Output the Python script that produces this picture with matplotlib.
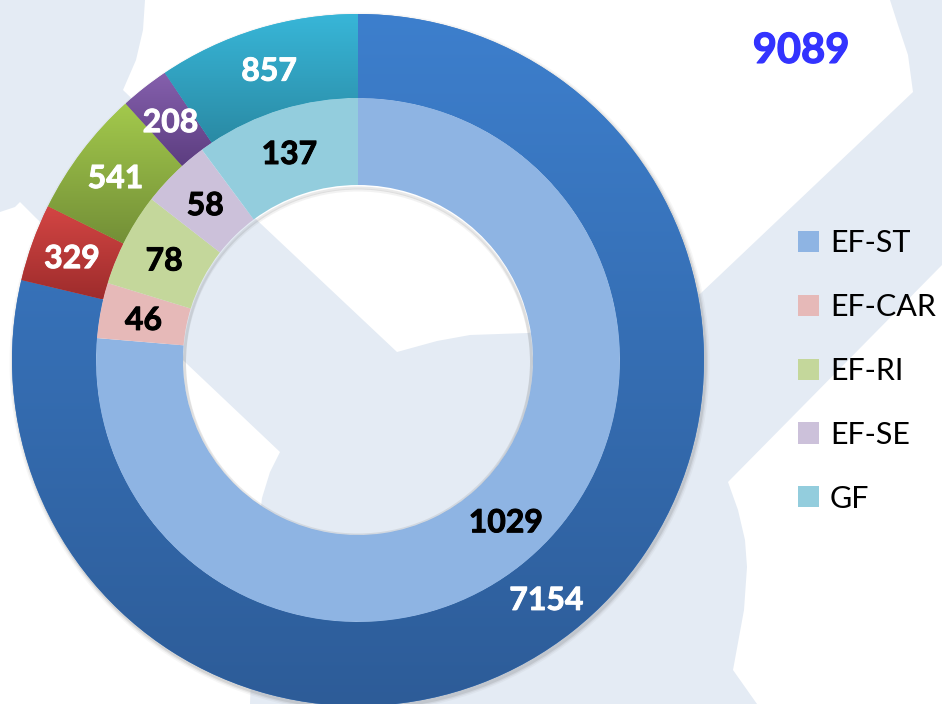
import numpy as np
import matplotlib
matplotlib.use('Agg')
import matplotlib.pyplot as plt
from matplotlib.patches import Polygon, Circle, Wedge
from matplotlib.colors import LinearSegmentedColormap
import matplotlib.patheffects as pe

# ---- data ----
categories = ['EF-ST', 'EF-CAR', 'EF-RI', 'EF-SE', 'GF']
outer_values = [7154, 329, 541, 208, 857]
inner_values = [1029, 46, 78, 58, 137]

# ---- style ----
outer_top = ['#3d7fcd', '#d44644', '#a3c94c', '#8560ad', '#38b6d8']
outer_bottom = ['#2d5c98', '#9e2c2c', '#738f37', '#5c3d80', '#2a8aa4']
inner_colors = ['#8eb4e3', '#e6b9b8', '#c4d79b', '#ccc1da', '#93cddd']
FONT = ['Lato', 'DejaVu Sans']

W, H = 942, 704
fig = plt.figure(figsize=(W / 100, H / 100), dpi=100)
fig.patch.set_facecolor('#e4ebf4')

# decorative background (watermark shapes)
bg = fig.add_axes([0, 0, 1, 1])
bg.set_xlim(0, W)
bg.set_ylim(H, 0)
bg.axis('off')
white_regions = [
    [(145, 0), (143, 30), (136, 60), (123, 90), (260, 223), (397, 352), (437, 341),
     (470, 335), (528, 333), (600, 320), (700, 294), (913, 92), (908, 55), (898, 25), (890, 0)],
    [(0, 212), (15, 207), (20, 202), (35, 217), (186, 363), (280, 452), (270, 472),
     (262, 498), (255, 560), (250, 704), (0, 704)],
    [(942, 265), (728, 482), (738, 510), (745, 540), (747, 567), (744, 610), (733, 670),
     (757, 704), (942, 704)],
]
for poly in white_regions:
    bg.add_patch(Polygon(poly, closed=True, facecolor='white', edgecolor='none'))

ax = fig.add_axes([0, 0, 1, 1])
ax.patch.set_alpha(0)
cx, cy = 358, H - 360
R_out, R_mid, R_in = 346, 262, 175

# soft outer shadow (annulus only)
for k, a in [(4, 0.06), (2.5, 0.10), (1.2, 0.16)]:
    ax.add_patch(Wedge((cx + 1.5, cy - 2.5), R_out + k, 0, 360, width=20,
                       facecolor='#707070', edgecolor='none', alpha=a, zorder=0.5))

outer_wedges, _ = ax.pie(outer_values, radius=R_out, center=(cx, cy), startangle=90,
                         counterclock=False, colors=outer_top,
                         wedgeprops=dict(width=R_out - R_mid, linewidth=0, zorder=1))
inner_wedges, _ = ax.pie(inner_values, radius=R_mid, center=(cx, cy), startangle=90,
                         counterclock=False, colors=inner_colors,
                         wedgeprops=dict(width=R_mid - R_in, linewidth=0, zorder=1))

# vertical gradient on outer ring wedges
for w, ct, cb in zip(outer_wedges, outer_top, outer_bottom):
    ext = w.get_path().get_extents()
    grad = np.linspace(0, 1, 256)[:, None]
    cmap = LinearSegmentedColormap.from_list('g', [ct, cb])
    im = ax.imshow(grad, cmap=cmap, extent=(ext.x0, ext.x1, ext.y0, ext.y1),
                   origin='upper', aspect='auto', interpolation='bilinear', zorder=1.2)
    im.set_clip_path(w)

# inner shadow of hole (top)
hole_clip = Circle((cx, cy), R_in, transform=ax.transData)
for k, a in [(1.5, 0.12), (3.5, 0.07)]:
    p = Wedge((cx, cy - k), R_in, 0, 360, width=3, facecolor='#505050',
              edgecolor='none', alpha=a, zorder=1.5)
    ax.add_patch(p)
    p.set_clip_path(hole_clip)

FS = 23  # pt
fs_px = FS * 100 / 72
cap = 0.716 * fs_px


def put_labels(wedges, values, r, color):
    for w, v in zip(wedges, values):
        th = np.deg2rad((w.theta1 + w.theta2) / 2)
        x = cx + r * np.cos(th)
        y = cy + r * np.sin(th)
        ax.text(x, y - cap / 2, f'{v}', ha='center', va='baseline', color=color,
                fontsize=FS, fontweight='bold', family=FONT, zorder=5,
                path_effects=[pe.withStroke(linewidth=0.7, foreground=color)])


put_labels(outer_wedges, outer_values, (R_out + R_mid) / 2, 'white')
put_labels(inner_wedges, inner_values, (R_mid + R_in) / 2, 'black')

# total
tot_fs = 30
ax.text(801, H - 48 - 0.358 * tot_fs * 100 / 72, f'{sum(outer_values)}', ha='center',
        va='baseline', color='#3333ff', fontsize=tot_fs, fontweight='bold', family=FONT,
        path_effects=[pe.withStroke(linewidth=0.9, foreground='#3333ff')])

leg = ax.legend(inner_wedges, categories, loc='center left',
                bbox_to_anchor=(798 / W, 1 - 371 / H), frameon=False,
                prop=dict(family=FONT, size=22), handlelength=0.69, handleheight=0.69,
                handletextpad=0.36, labelspacing=1.17, borderpad=0, borderaxespad=0)

ax.set_xlim(0, W)
ax.set_ylim(0, H)
ax.axis('off')

fig.savefig('out.png', dpi=100, facecolor=fig.get_facecolor())
